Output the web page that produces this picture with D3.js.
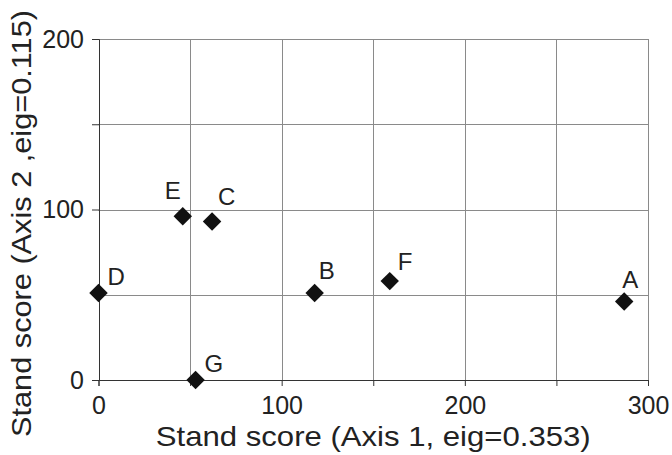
<!DOCTYPE html>
<html>
<head>
<meta charset="utf-8">
<script src="https://cdn.jsdelivr.net/npm/d3@7"></script>
<style>
  body { margin: 0; background: #fff; }
  text { font-family: "Liberation Sans", Arial, sans-serif; fill: #222; }
</style>
</head>
<body>
<script>
    // sample scores
    var labels = ["A", "B", "C", "D", "E", "F", "G"],
        axis1 = [287, 118, 62, 0, 46, 159, 53],
        axis2 = [46, 51, 93, 51, 96, 58, 0];

    var xTicks = [0, 50, 100, 150, 200, 250, 300],
        yTicks = [0, 50, 100, 150, 200],
        xTitle = "Stand score (Axis 1, eig=0.353)",
        yTitle = "Stand score (Axis 2 ,eig=0.115)";

    // label nudges relative to each marker
    var nudge = {
        A: [-2, -14, "start"],
        B: [4, -14, "start"],
        C: [6, -16, "start"],
        D: [9, -8, "start"],
        E: [-2, -17, "end"],
        F: [8, -11, "start"],
        G: [9, -8, "start"]
    };

    var width = 672, height = 455,
        plotLeft = 98.5, plotRight = 648, plotTop = 39, plotBottom = 380;

    var x = d3.scaleLinear().domain([0, 300]).range([plotLeft, plotRight]);
    var y = d3.scaleLinear().domain([0, 200]).range([plotBottom, plotTop]);

    var svg = d3.select("body").append("svg")
        .attr("width", width)
        .attr("height", height);

    // grid
    svg.append("g").selectAll("line")
        .data(xTicks.slice(1))
        .enter().append("line")
        .attr("x1", function (d) { return Math.round(x(d)) + 0.5; })
        .attr("x2", function (d) { return Math.round(x(d)) + 0.5; })
        .attr("y1", plotTop)
        .attr("y2", plotBottom)
        .style("stroke", "#8a8a8a")
        .style("stroke-width", 1);

    svg.append("g").selectAll("line")
        .data(yTicks.slice(1))
        .enter().append("line")
        .attr("x1", plotLeft)
        .attr("x2", plotRight)
        .attr("y1", function (d) { return Math.round(y(d)) + 0.5; })
        .attr("y2", function (d) { return Math.round(y(d)) + 0.5; })
        .style("stroke", "#8a8a8a")
        .style("stroke-width", 1);

    // axes
    var yAxis = d3.axisLeft(y)
        .tickValues(yTicks)
        .tickFormat(function (d) { return d % 100 === 0 ? d : ""; })
        .tickSize(7)
        .tickPadding(8);

    var xAxis = d3.axisBottom(x)
        .tickValues(xTicks)
        .tickFormat(function (d) { return d % 100 === 0 ? d : ""; })
        .tickSize(6)
        .tickPadding(10);

    svg.append("g")
        .attr("transform", "translate(" + Math.round(plotLeft) + ",0)")
        .call(yAxis)
        .call(function (g) {
            g.select(".domain").attr("stroke", "#333");
            g.selectAll(".tick line").attr("stroke", "#333");
            g.selectAll("text").attr("font-size", 25).attr("fill", "#222")
                .attr("font-family", "Liberation Sans, Arial, sans-serif");
        });

    svg.append("g")
        .attr("transform", "translate(0," + Math.round(plotBottom) + ")")
        .call(xAxis)
        .call(function (g) {
            g.select(".domain").attr("stroke", "#333");
            g.selectAll(".tick line").attr("stroke", "#333");
            g.selectAll("text").attr("font-size", 25).attr("fill", "#222")
                .attr("font-family", "Liberation Sans, Arial, sans-serif");
        });

    // points
    var pts = svg.append("g").selectAll("g")
        .data(labels)
        .enter().append("g")
        .attr("transform", function (d, i) {
            return "translate(" + x(axis1[i]) + "," + y(axis2[i]) + ")";
        });

    pts.append("path")
        .attr("d", d3.symbol().type(d3.symbolSquare).size(170))
        .attr("transform", "rotate(45)")
        .style("fill", "#111");

    pts.append("text")
        .attr("x", function (d) { return nudge[d][0]; })
        .attr("y", function (d) { return nudge[d][1]; })
        .attr("text-anchor", function (d) { return nudge[d][2]; })
        .style("font-size", "24px")
        .text(function (d) { return d; });

    // titles
    svg.append("text")
        .attr("x", (plotLeft + plotRight) / 2)
        .attr("y", 446)
        .attr("text-anchor", "middle")
        .attr("textLength", 435)
        .attr("lengthAdjust", "spacingAndGlyphs")
        .style("font-size", "28px")
        .text(xTitle);

    svg.append("text")
        .attr("transform", "translate(31,223.5) rotate(-90)")
        .attr("text-anchor", "middle")
        .attr("textLength", 427)
        .attr("lengthAdjust", "spacingAndGlyphs")
        .style("font-size", "28px")
        .text(yTitle);
</script>
</body>
</html>
